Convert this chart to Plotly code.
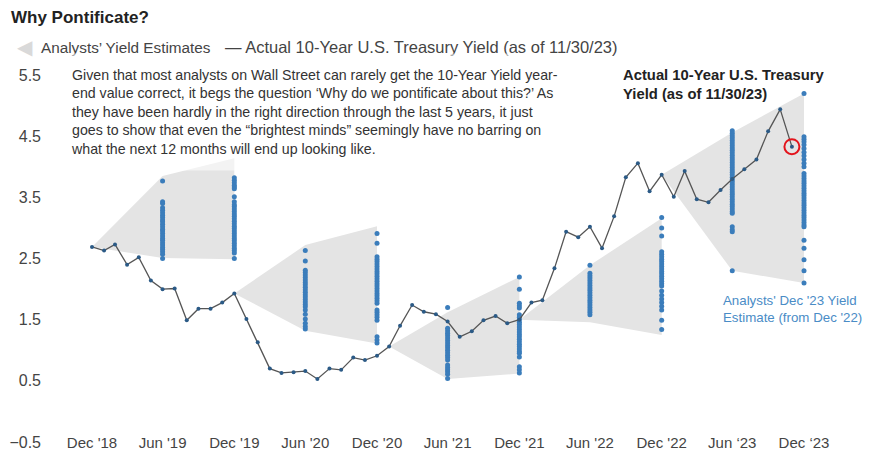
import pandas as pd
import plotly.graph_objects as go

# ---------------- data ----------------
yield_start = "2018-12-31"
yields = [2.69,
          2.63, 2.73, 2.40, 2.52, 2.14, 2.00, 2.01, 1.49, 1.68, 1.68, 1.78, 1.93,
          1.51, 1.13, 0.70, 0.63, 0.64, 0.66, 0.53, 0.70, 0.68, 0.88, 0.84, 0.91,
          1.06, 1.40, 1.74, 1.63, 1.59, 1.47, 1.22, 1.31, 1.49, 1.56, 1.44, 1.50,
          1.78, 1.82, 2.34, 2.94, 2.85, 3.02, 2.67, 3.19, 3.83, 4.06, 3.60, 3.87,
          3.51, 3.93, 3.47, 3.42, 3.62, 3.80, 3.96, 4.12, 4.58, 4.94, 4.33]

fan_start_dates = ["2018-12-31", "2019-12-31", "2021-01-31", "2021-12-31", "2022-12-31"]
fan_start_vals = [2.69, 1.93, 1.06, 1.50, 3.87]
fan_mid_dates = ["2019-06-30", "2020-06-30", "2021-06-30", "2022-06-30", "2023-06-30"]
fan_mid_high = [3.85, 2.72, 1.62, 2.39, 4.56]
fan_mid_low = [2.51, 1.32, 0.53, 1.46, 2.30]
fan_end_dates = ["2019-12-31", "2020-12-31", "2021-12-31", "2022-12-31", "2023-12-31"]
fan_end_high = [4.14, 3.03, 2.20, 3.16, 5.20]
fan_end_low = [2.49, 1.11, 0.62, 1.25, 2.10]

est_jun19 = [3.77, 3.43, 3.40, 3.33, 3.29, 3.25, 3.21, 3.17, 3.13, 3.10, 3.06, 3.02, 2.98,
             2.95, 2.91, 2.87, 2.83, 2.80, 2.76, 2.72, 2.68, 2.65, 2.61, 2.57, 2.50]
est_dec19 = [3.82, 3.78, 3.74, 3.70, 3.67, 3.64, 3.51, 3.43, 3.38, 3.35, 3.31, 3.27, 3.23,
             3.19, 3.15, 3.11, 3.07, 3.03, 2.99, 2.95, 2.91, 2.87, 2.83, 2.79, 2.75, 2.71,
             2.67, 2.63, 2.59, 2.50]
est_jun20 = [2.63, 2.46, 2.31, 2.27, 2.23, 2.19, 2.15, 2.11, 2.07, 2.03, 1.99, 1.95, 1.91,
             1.87, 1.83, 1.79, 1.75, 1.71, 1.66, 1.59, 1.51, 1.44, 1.39, 1.35]
est_dec20 = [2.91, 2.75, 2.53, 2.49, 2.45, 2.41, 2.37, 2.33, 2.29, 2.25, 2.21, 2.17, 2.13,
             2.09, 2.05, 2.01, 1.97, 1.93, 1.89, 1.85, 1.81, 1.77, 1.66, 1.62, 1.58, 1.54,
             1.49, 1.22, 1.17, 1.12]
est_jun21 = [1.70, 1.36, 1.32, 1.28, 1.24, 1.20, 1.16, 1.12, 1.08, 1.04, 1.00, 0.96, 0.92,
             0.88, 0.84, 0.76, 0.72, 0.68, 0.65, 0.61, 0.54]
est_dec21 = [2.20, 2.00, 1.77, 1.73, 1.69, 1.58, 1.54, 1.50, 1.46, 1.42, 1.38, 1.34, 1.30,
             1.26, 1.22, 1.18, 1.14, 1.10, 1.06, 1.02, 0.98, 0.95, 0.89, 0.73, 0.68, 0.63]
est_jun22 = [2.39, 2.26, 2.22, 2.18, 2.14, 2.10, 2.06, 2.02, 1.98, 1.94, 1.90, 1.86, 1.82,
             1.78, 1.74, 1.70, 1.66, 1.62, 1.58]
est_dec22 = [3.17, 3.00, 2.87, 2.61, 2.57, 2.53, 2.49, 2.45, 2.41, 2.37, 2.33, 2.29, 2.25,
             2.21, 2.17, 2.13, 2.09, 2.05, 1.97, 1.90, 1.84, 1.78, 1.72, 1.66, 1.49, 1.34]
est_jun23 = [4.59, 4.55, 4.51, 4.47, 4.43, 4.39, 4.35, 4.31, 4.27, 4.23, 4.19, 4.15, 4.11,
             4.07, 4.03, 3.99, 3.95, 3.91, 3.87, 3.83, 3.79, 3.75, 3.71, 3.67, 3.63, 3.59,
             3.55, 3.51, 3.47, 3.43, 3.39, 3.35, 3.31, 3.27, 3.24, 3.02, 2.97, 2.94, 2.30]
est_dec23 = [5.20, 4.49, 4.45, 4.41, 4.36, 4.30, 4.24, 4.18, 4.12, 4.06, 4.00, 3.89, 3.85,
             3.81, 3.77, 3.73, 3.69, 3.65, 3.61, 3.57, 3.53, 3.49, 3.45, 3.41, 3.37, 3.33,
             3.29, 3.25, 3.21, 3.17, 3.13, 3.09, 3.05, 3.02, 2.80, 2.67, 2.48, 2.30, 2.10]
est_dates = ["2019-06-30", "2019-12-31", "2020-06-30", "2020-12-31", "2021-06-30",
             "2021-12-31", "2022-06-30", "2022-12-31", "2023-06-30", "2023-12-31"]
est_values = [est_jun19, est_dec19, est_jun20, est_dec20, est_jun21,
              est_dec21, est_jun22, est_dec22, est_jun23, est_dec23]

xtick_dates = ["2018-12-31", "2019-06-30", "2019-12-31", "2020-06-30", "2020-12-31",
               "2021-06-30", "2021-12-31", "2022-06-30", "2022-12-31", "2023-06-30", "2023-12-31"]
xtick_text = ["Dec '18", "Jun '19", "Dec '19", "Jun '20", "Dec '20", "Jun '21",
              "Dec '21", "Jun '22", "Dec '22", "Jun \u201823", "Dec \u201823"]
ytick_vals = [-0.5, 0.5, 1.5, 2.5, 3.5, 4.5, 5.5]

# ---------------- styling ----------------
FONT = "Liberation Sans"
W, H = 869, 451
# plot area in page pixels
PL, PR, PT, PB = 50, 864, 75 - 0.1 * 61.17, 442
L, T, R, B = PL, PT, W - PR, H - PB
PW, PH = PR - PL, PB - PT
FAN_COLOR = "#e4e4e4"
DOT_COLOR = "#3b7dbb"
LINE_COLOR = "#555555"
MARK_COLOR = "#2b5a86"
PX_PER_DAY = 712 / 1826

def px(xpix):
    return (xpix - PL) / PW

def py(ypix):
    return (PB - ypix) / PH

yield_dates = pd.date_range(yield_start, periods=len(yields), freq="ME")

fig = go.Figure()

# fans
for i in range(len(fan_start_dates)):
    xs = [fan_start_dates[i], fan_mid_dates[i], fan_end_dates[i],
          fan_end_dates[i], fan_mid_dates[i], fan_start_dates[i]]
    ys = [fan_start_vals[i], fan_mid_high[i], fan_end_high[i],
          fan_end_low[i], fan_mid_low[i], fan_start_vals[i]]
    fig.add_trace(go.Scatter(x=xs, y=ys, mode="lines", fill="toself",
                             fillcolor=FAN_COLOR, line=dict(width=0),
                             hoverinfo="skip", showlegend=False))

# estimate dots
ex, ey = [], []
for d, vals in zip(est_dates, est_values):
    ex += [d] * len(vals)
    ey += vals
fig.add_trace(go.Scatter(x=ex, y=ey, mode="markers",
                         marker=dict(color=DOT_COLOR, size=5),
                         showlegend=False, name="Analysts' Yield Estimates"))

# actual yield line
fig.add_trace(go.Scatter(x=yield_dates, y=yields, mode="lines+markers",
                         line=dict(color=LINE_COLOR, width=1.3),
                         marker=dict(color=MARK_COLOR, size=4),
                         showlegend=False,
                         name="Actual 10-Year U.S. Treasury Yield"))

# red circle on latest point
fig.add_trace(go.Scatter(x=[yield_dates[-1]], y=[yields[-1]], mode="markers",
                         marker=dict(symbol="circle-open", size=15, color="#e3141c",
                                     line=dict(color="#e3141c", width=2)),
                         showlegend=False, hoverinfo="skip"))

x0 = pd.Timestamp("2018-12-31") - pd.Timedelta(days=(92 - PL) / PX_PER_DAY)
x1 = pd.Timestamp("2023-12-31") + pd.Timedelta(days=(PR - 804) / PX_PER_DAY)

fig.update_layout(
    width=W, height=H,
    margin=dict(l=L, r=R, t=T, b=B, autoexpand=False),
    paper_bgcolor="white", plot_bgcolor="white",
    font=dict(family=FONT, color="#333333"),
    xaxis=dict(range=[x0, x1], tickvals=xtick_dates, ticktext=xtick_text,
               showgrid=False, zeroline=False, showline=False, ticks="",
               anchor="free", position=py(432),
               tickfont=dict(size=15, color="#444444")),
    yaxis=dict(range=[-0.5, 5.6], tickvals=ytick_vals, tickformat=".1f",
               showgrid=False, zeroline=False, showline=False, ticks="",
               ticklabelstandoff=8,
               tickfont=dict(size=16, color="#444444")),
)

ann = []
ann.append(dict(xref="paper", yref="paper", x=px(9), y=py(17),
                xanchor="left", yanchor="middle", showarrow=False,
                text="<b>Why Pontificate?</b>",
                font=dict(size=17, color="#222222")))
ann.append(dict(xref="paper", yref="paper", x=px(15), y=py(47),
                xanchor="left", yanchor="middle", showarrow=False,
                text="\u25C0", font=dict(size=20, color="#d9d9d9")))
ann.append(dict(xref="paper", yref="paper", x=px(39), y=py(47),
                xanchor="left", yanchor="middle", showarrow=False,
                text="Analysts\u2019 Yield Estimates",
                font=dict(size=15.3, color="#444444")))
ann.append(dict(xref="paper", yref="paper", x=px(223), y=py(47),
                xanchor="left", yanchor="middle", showarrow=False,
                text="\u2014 Actual 10-Year U.S. Treasury Yield (as of 11/30/23)",
                font=dict(size=16.5, color="#444444")))
ann.append(dict(xref="paper", yref="paper", x=px(57), y=py(53),
                xanchor="left", yanchor="top", align="left", showarrow=False,
                bgcolor="rgba(255,255,255,0.55)", borderpad=13,
                text=("Given that most analysts on Wall Street can rarely get the 10-Year Yield year-<br>"
                      "end value correct, it begs the question \u2018Why do we pontificate about this?\u2019 As<br>"
                      "they have been hardly in the right direction through the last 5 years, it just<br>"
                      "goes to show that even the \u201cbrightest minds\u201d seemingly have no barring on<br>"
                      "what the next 12 months will end up looking like."),
                font=dict(size=14.2, color="#333333")))
ann.append(dict(xref="paper", yref="paper", x=px(621), y=py(65),
                xanchor="left", yanchor="top", align="left", showarrow=False,
                text="<b>Actual 10-Year U.S. Treasury<br>Yield (as of 11/30/23)</b>",
                font=dict(size=14.8, color="#222222")))
ann.append(dict(xref="paper", yref="paper", x=px(721), y=py(291),
                xanchor="left", yanchor="top", align="left", showarrow=False,
                text="Analysts' Dec '23 Yield<br>Estimate (from Dec '22)",
                font=dict(size=13.3, color="#4a8cc6")))
fig.update_layout(annotations=ann)

fig.write_html("out.html", config={"displayModeBar": False},
               post_script="document.body.style.margin='0';document.body.style.overflow='hidden';")
